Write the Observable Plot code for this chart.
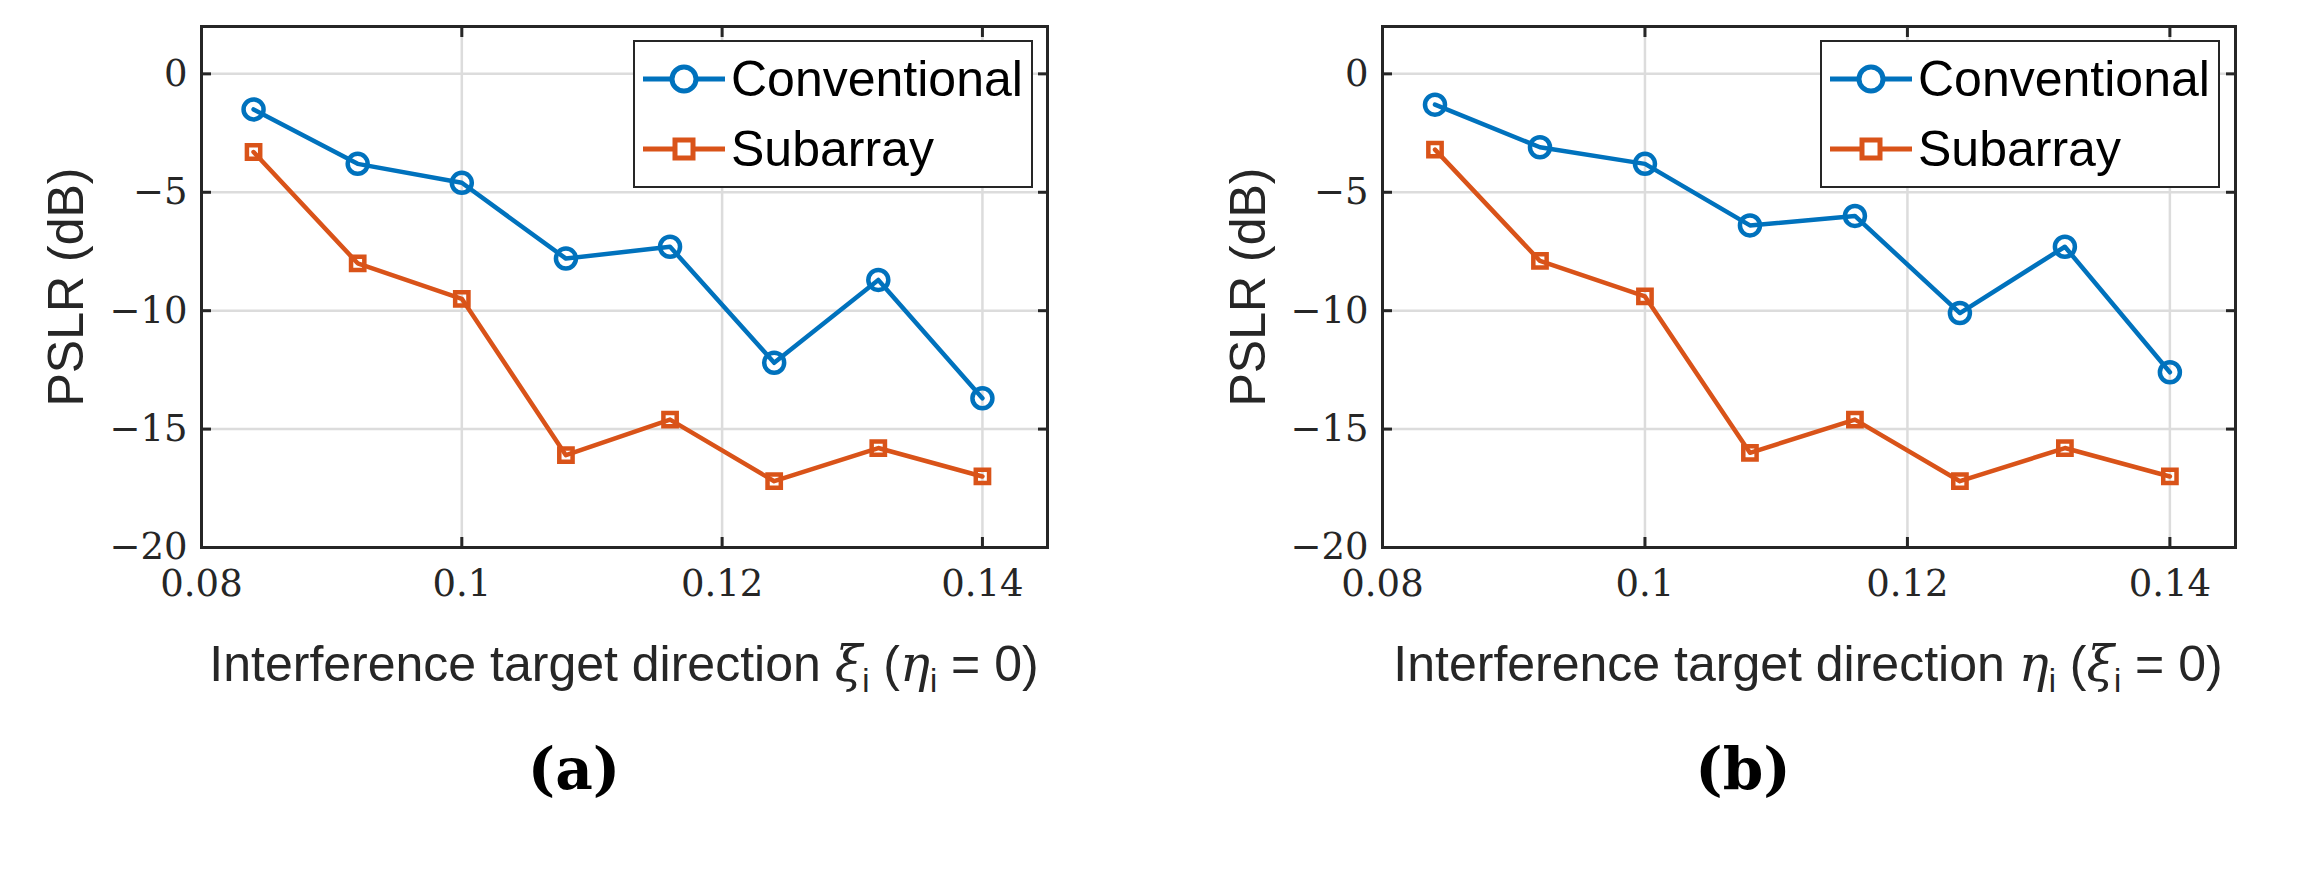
<!DOCTYPE html>
<html><head><meta charset="utf-8">
<script src="https://cdn.jsdelivr.net/npm/d3@7"></script>
<script src="https://cdn.jsdelivr.net/npm/@observablehq/plot@0.6"></script>
<style>
body{margin:0;background:#fff;width:2306px;height:874px;position:relative;overflow:hidden}
.pan{position:absolute;top:0}
.lab{position:absolute;font-family:"Liberation Sans",Arial,sans-serif;font-size:50px;color:#262626;white-space:nowrap}
.ylab{transform:translate(-50%,-50%) rotate(-90deg)}
.xlab{transform:translateX(-50%)}
.cap{position:absolute;font-family:"DejaVu Serif",serif;font-weight:bold;font-size:58px;transform:translateX(-50%)}
.leg{position:absolute;border:2.5px solid #262626;background:#fff;font-family:"Liberation Sans",Arial,sans-serif;font-size:50px;padding:2px 8px 2px 6px;color:#000}
.leg div{display:flex;align-items:center;height:70px}
.leg svg{margin-right:4px}
sub{font-size:65%}
</style></head><body>
<script>
const xs = [0.084, 0.092, 0.1, 0.108, 0.116, 0.124, 0.132, 0.14];
const convA = [-1.5, -3.8, -4.6, -7.8, -7.3, -12.2, -8.7, -13.7];
const subA  = [-3.3, -8.0, -9.5, -16.1, -14.6, -17.2, -15.8, -17.0];
const convB = [-1.3, -3.1, -3.8, -6.4, -6.0, -10.1, -7.3, -12.6];
const subB  = [-3.2, -7.9, -9.4, -16.0, -14.6, -17.2, -15.8, -17.0];
const xTicks = [0.08, 0.1, 0.12, 0.14];
const yTicks = [0, -5, -10, -15, -20];
const BLUE = "#0072BD", ORANGE = "#D95319";
const fmtX = d => String(+d.toFixed(2));
const fmtY = d => d < 0 ? "\u2212" + Math.abs(d) : String(d);

function panel(conv, sub, ml, mr) {
  const rows = s => xs.map((x, i) => ({x, y: s[i]}));
  const A = rows(conv), B = rows(sub);
  return Plot.plot({
    width: 1153, height: 660,
    marginLeft: ml, marginRight: mr, marginTop: 26, marginBottom: 113,
    style: {background: "transparent", fontFamily: "DejaVu Serif, serif", fontSize: "37px", color: "#262626"},
    x: {domain: [0.08, 0.145]},
    y: {domain: [-20, 2]},
    marks: [
      Plot.gridX(xTicks, {stroke: "#dcdcdc", strokeOpacity: 1, strokeWidth: 2.5}),
      Plot.gridY(yTicks, {stroke: "#dcdcdc", strokeOpacity: 1, strokeWidth: 2.5}),
      Plot.axisX(xTicks, {tickSize: -10, tickFormat: fmtX, tickPadding: 32, label: null, strokeWidth: 3, fontSize: 37}),
      Plot.axisX(xTicks, {anchor: "top", tickSize: -10, text: null, label: null, strokeWidth: 3}),
      Plot.axisY(yTicks, {tickSize: -10, tickFormat: fmtY, tickPadding: 24, label: null, strokeWidth: 3, fontSize: 37}),
      Plot.axisY(yTicks, {anchor: "right", tickSize: -10, text: null, label: null, strokeWidth: 3}),
      Plot.frame({stroke: "#262626", strokeWidth: 3}),
      Plot.line(A, {x: "x", y: "y", stroke: BLUE, strokeWidth: 4.5}),
      Plot.dot(A, {x: "x", y: "y", stroke: BLUE, fill: "none", r: 10, strokeWidth: 4.5}),
      Plot.line(B, {x: "x", y: "y", stroke: ORANGE, strokeWidth: 4.5}),
      Plot.dot(B, {x: "x", y: "y", stroke: ORANGE, fill: "none", symbol: "square", r: 7.5, strokeWidth: 4.5})
    ]
  });
}

function legend(left) {
  const d = document.createElement("div");
  d.className = "leg";
  d.style.left = left + "px"; d.style.top = "40px";
  d.innerHTML = `
  <div><svg width="86" height="34"><line x1="2" x2="84" y1="17" y2="17" stroke="${BLUE}" stroke-width="5"/><circle cx="43" cy="17" r="12" fill="white" stroke="${BLUE}" stroke-width="5"/></svg>Conventional</div>
  <div><svg width="86" height="34"><line x1="2" x2="84" y1="17" y2="17" stroke="${ORANGE}" stroke-width="5"/><rect x="34" y="8" width="18" height="18" fill="white" stroke="${ORANGE}" stroke-width="5"/></svg>Subarray</div>`;
  document.body.appendChild(d);
}

function add(el, left) { el.classList.add("pan"); el.style.left = left + "px"; document.body.appendChild(el); }
add(panel(convA, subA, 201, 106), 0);
add(panel(convB, subB, 229, 71), 1153);
legend(633);
legend(1820);

function html(cls, left, top, s) { const d = document.createElement("div"); d.className = cls; d.style.left = left + "px"; d.style.top = top + "px"; d.innerHTML = s; document.body.appendChild(d); }
html("lab ylab", 66, 287, "PSLR (dB)");
html("lab ylab", 1248, 287, "PSLR (dB)");
html("lab xlab", 624, 635, 'Interference target direction <i style="font-family:DejaVu Serif,serif">ξ</i><sub>i</sub> (<i style="font-family:DejaVu Serif,serif">η</i><sub>i</sub> = 0)');
html("lab xlab", 1808, 635, 'Interference target direction <i style="font-family:DejaVu Serif,serif">η</i><sub>i</sub> (<i style="font-family:DejaVu Serif,serif">ξ</i><sub>i</sub> = 0)');
html("cap", 574, 735, "(a)");
html("cap", 1743, 735, "(b)");
</script>
</body></html>
